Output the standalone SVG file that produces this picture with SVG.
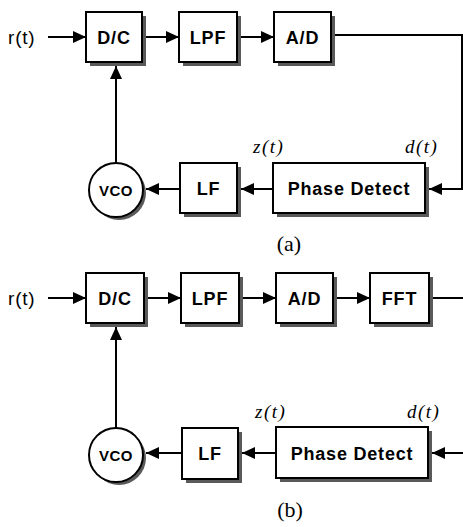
<svg xmlns="http://www.w3.org/2000/svg" width="463" height="527" viewBox="0 0 463 527">
<defs>
<marker id="arr" markerWidth="14" markerHeight="12" refX="13" refY="6" orient="auto" markerUnits="userSpaceOnUse">
<path d="M0,0 L13,6 L0,12 Z" fill="#000"/>
</marker>
</defs>
<style>
.sh{fill:#5a5a5a}
.bx{fill:#fff;stroke:#000;stroke-width:2}
.lb{font-family:"Liberation Sans",Arial,sans-serif;font-size:18px;font-weight:bold;text-anchor:middle;fill:#000;letter-spacing:0.8px}
.vc{font-family:"Liberation Sans",Arial,sans-serif;font-size:15px;font-weight:bold;text-anchor:middle;fill:#000;letter-spacing:0.5px}
.it{font-family:"Liberation Serif","Times New Roman",serif;font-size:19px;font-style:italic;fill:#000;letter-spacing:1.5px}
.cap{font-family:"Liberation Serif","Times New Roman",serif;font-size:22px;text-anchor:middle;fill:#000}
.ln{fill:none;stroke:#000;stroke-width:2}
.ar{marker-end:url(#arr)}
</style>
<rect width="463" height="527" fill="#fff"/>

<!-- (a) -->
<g id="a-rt"><text x="8" y="44" class="lb" style="text-anchor:start;font-weight:normal;font-size:19px">r(t)</text></g>
<g id="a-dc"><rect x="90" y="16" width="56" height="50" class="sh"/><rect x="86" y="12" width="56" height="50" class="bx"/><text x="114" y="44" class="lb">D/C</text></g>
<g id="a-lpf"><rect x="183" y="16" width="58" height="50" class="sh"/><rect x="179" y="12" width="58" height="50" class="bx"/><text x="208" y="44" class="lb">LPF</text></g>
<g id="a-ad"><rect x="278" y="16" width="57" height="50" class="sh"/><rect x="274" y="12" width="57" height="50" class="bx"/><text x="302.5" y="44" class="lb">A/D</text></g>
<g id="a-pd"><rect x="277" y="167" width="152" height="50" class="sh"/><rect x="273" y="163" width="152" height="50" class="bx"/><text x="349" y="195" class="lb">Phase Detect</text></g>
<g id="a-lf"><rect x="184" y="167" width="57" height="50" class="sh"/><rect x="180" y="163" width="57" height="50" class="bx"/><text x="208.5" y="195" class="lb">LF</text></g>
<g id="a-vco"><circle cx="119" cy="193" r="27" class="sh"/><circle cx="116" cy="190" r="27" class="bx"/><text x="116" y="196" class="vc">VCO</text></g>
<g id="a-labels">
<text x="253" y="153" class="it">z(t)</text>
<text x="405" y="153" class="it">d(t)</text>
<text x="289" y="251" class="cap">(a)</text>
</g>
<g id="a-connectors">
<line x1="48" y1="37" x2="86" y2="37" class="ln ar"/>
<line x1="146" y1="37" x2="179" y2="37" class="ln ar"/>
<line x1="241" y1="37" x2="274" y2="37" class="ln ar"/>
<polyline points="335,35 462,35 462,189 429,189" class="ln ar"/>
<line x1="273" y1="189" x2="241" y2="189" class="ln ar"/>
<line x1="180" y1="189" x2="146" y2="189" class="ln ar"/>
<line x1="116" y1="163" x2="116" y2="66" class="ln ar"/>
</g>

<!-- (b) -->
<g id="b-rt"><text x="8" y="305" class="lb" style="text-anchor:start;font-weight:normal;font-size:19px">r(t)</text></g>
<g id="b-dc"><rect x="90" y="277" width="58" height="50" class="sh"/><rect x="86" y="273" width="58" height="50" class="bx"/><text x="115" y="305" class="lb">D/C</text></g>
<g id="b-lpf"><rect x="185" y="277" width="58" height="50" class="sh"/><rect x="181" y="273" width="58" height="50" class="bx"/><text x="210" y="305" class="lb">LPF</text></g>
<g id="b-ad"><rect x="280" y="277" width="57" height="50" class="sh"/><rect x="276" y="273" width="57" height="50" class="bx"/><text x="304.5" y="305" class="lb">A/D</text></g>
<g id="b-fft"><rect x="374" y="277" width="59" height="50" class="sh"/><rect x="370" y="273" width="59" height="50" class="bx"/><text x="399.5" y="305" class="lb">FFT</text></g>
<g id="b-pd"><rect x="280" y="431" width="152" height="51" class="sh"/><rect x="276" y="427" width="152" height="51" class="bx"/><text x="352" y="460" class="lb">Phase Detect</text></g>
<g id="b-lf"><rect x="186" y="432" width="56" height="51" class="sh"/><rect x="182" y="428" width="56" height="51" class="bx"/><text x="210" y="460" class="lb">LF</text></g>
<g id="b-vco"><circle cx="119" cy="458" r="27" class="sh"/><circle cx="116" cy="455" r="27" class="bx"/><text x="116" y="461" class="vc">VCO</text></g>
<g id="b-labels">
<text x="255" y="418" class="it">z(t)</text>
<text x="407" y="418" class="it">d(t)</text>
<text x="290" y="517" class="cap">(b)</text>
</g>
<g id="b-connectors">
<line x1="48" y1="298" x2="86" y2="298" class="ln ar"/>
<line x1="148" y1="298" x2="181" y2="298" class="ln ar"/>
<line x1="243" y1="298" x2="276" y2="298" class="ln ar"/>
<line x1="337" y1="298" x2="370" y2="298" class="ln ar"/>
<line x1="433" y1="298" x2="463" y2="298" class="ln"/>
<line x1="463" y1="453" x2="432" y2="453" class="ln ar"/>
<line x1="276" y1="453" x2="242" y2="453" class="ln ar"/>
<line x1="182" y1="453" x2="146" y2="453" class="ln ar"/>
<line x1="116" y1="428" x2="116" y2="327" class="ln ar"/>
</g>
</svg>
